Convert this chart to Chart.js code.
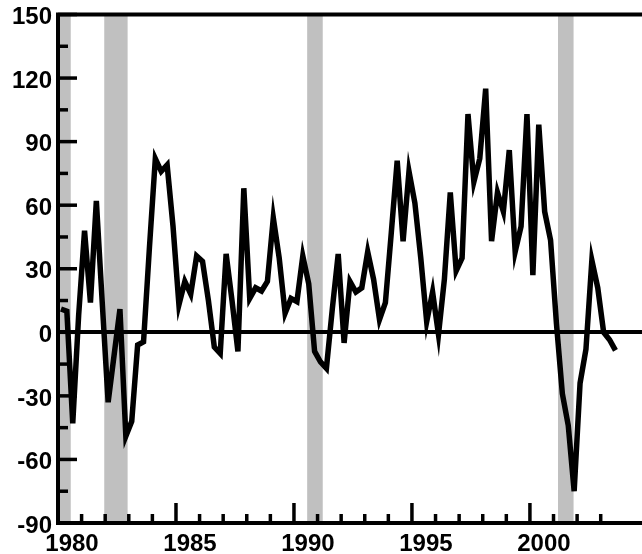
<!DOCTYPE html>
<html>
<head>
<meta charset="utf-8">
<script src="https://cdn.jsdelivr.net/npm/chart.js@4.4.1/dist/chart.umd.min.js"></script>
<style>
  html, body { margin: 0; padding: 0; background: #fff; }
  #wrap { width: 642px; height: 554px; }
</style>
</head>
<body>
<div id="wrap"><canvas id="chart"></canvas></div>
<script>
'use strict';

// quarterly series, first point is 1980 Q1
const startYear = 1980;
const values = [
  11, 10, -43, 8,        // 1980
  48, 14, 62, 14,        // 1981
  -33, -11, 11, -49,     // 1982
  -42, -6, -4.5, 40,     // 1983
  82, 76, 79, 50,        // 1984
  13, 24, 18, 36,        // 1985
  33.5, 15, -7, -10,     // 1986
  37, 15, -9, 68,        // 1987
  16, 21, 19.5, 24,      // 1988
  54, 35, 9, 16,         // 1989
  14.5, 36, 23, -9,      // 1990
  -14, -17, 11, 37,      // 1991
  -5, 24, 19, 21,        // 1992
  38, 25, 6, 14,         // 1993
  47, 81, 43, 76,        // 1994
  61, 35, 5, 19,         // 1995
  -1, 25, 66, 29,        // 1996
  35, 103, 71, 82,       // 1997
  115, 43, 66, 57,       // 1998
  86, 38, 50, 103,       // 1999
  27, 98, 57, 43.5,      // 2000
  4, -29, -44, -75,      // 2001
  -24, -8, 34, 21,       // 2002
  0, -3.5, -8.5          // 2003
];

// shaded recession periods (decimal years)
const recessionStart = [1980.0, 1981.96, 1990.56, 2001.19];
const recessionEnd = [1980.54, 1982.95, 1991.22, 2001.85];

const xMin = 1980, xMax = 2004.75;
const yMin = -90, yMax = 150;

const labelFont = { family: "'Liberation Sans', Arial, sans-serif", size: 24, weight: 'bold' };

const points = values.map((v, i) => ({ x: startYear + 0.125 + i * 0.25, y: v }));

const recessionBands = {
  id: 'recessionBands',
  beforeDraw(chart) {
    const { ctx, chartArea, scales: { x } } = chart;
    ctx.save();
    ctx.fillStyle = '#c0c0c0';
    recessionStart.forEach((s, i) => {
      const x0 = Math.max(x.getPixelForValue(s), chartArea.left);
      const x1 = x.getPixelForValue(recessionEnd[i]);
      ctx.fillRect(x0, chartArea.top, x1 - x0, chartArea.bottom - chartArea.top);
    });
    ctx.restore();
  },
};

// inward tick marks + top frame line
const frameTicks = {
  id: 'frameTicks',
  afterDraw(chart) {
    const { ctx, chartArea, scales: { x, y } } = chart;
    ctx.save();
    ctx.strokeStyle = '#000';
    ctx.lineWidth = 4;
    ctx.beginPath();
    ctx.moveTo(chartArea.left - 2, chartArea.top);
    ctx.lineTo(chartArea.right, chartArea.top);
    ctx.stroke();

    ctx.lineWidth = 3.5;
    y.ticks.forEach((t) => {
      const py = y.getPixelForValue(t.value);
      const len = t.value % 30 === 0 ? 19 : 10;
      ctx.beginPath();
      ctx.moveTo(chartArea.left, py);
      ctx.lineTo(chartArea.left + len, py);
      ctx.stroke();
    });
    x.ticks.forEach((t) => {
      if (!Number.isInteger(t.value)) return;
      const px = x.getPixelForValue(t.value);
      const len = t.value % 5 === 0 ? 20 : 9;
      ctx.beginPath();
      ctx.moveTo(px, chartArea.bottom);
      ctx.lineTo(px, chartArea.bottom - len);
      ctx.stroke();
    });
    ctx.restore();
  },
};

new Chart(document.getElementById('chart'), {
  type: 'line',
  data: {
    datasets: [{
      data: points,
      borderColor: '#000',
      borderWidth: 5.5,
      pointRadius: 0,
      tension: 0,
      fill: false,
    }],
  },
  options: {
    responsive: true,
    maintainAspectRatio: false,
    animation: false,
    layout: { padding: { top: 0, right: 0, bottom: 0, left: 0 } },
    plugins: {
      legend: { display: false },
      tooltip: { enabled: false },
    },
    scales: {
      x: {
        type: 'linear',
        min: xMin,
        max: xMax,
        border: { color: '#000', width: 4 },
        grid: { display: false },
        ticks: {
          stepSize: 1,
          autoSkip: false,
          maxRotation: 0,
          padding: -1,
          labelOffset: 14,
          color: '#000',
          font: labelFont,
          callback: (v) => (v % 5 === 0 ? String(v) : ''),
        },
        afterFit: (s) => { s.height = 31; s.paddingLeft = 0; s.paddingRight = 0; },
      },
      y: {
        min: yMin,
        max: yMax,
        border: { color: '#000', width: 4 },
        grid: {
          drawTicks: false,
          lineWidth: 4,
          color: (c) => (c.tick && c.tick.value === 0 ? '#000' : 'rgba(0,0,0,0)'),
        },
        ticks: {
          stepSize: 15,
          autoSkip: false,
          padding: 6,
          labelOffset: 3,
          color: '#000',
          font: labelFont,
          callback: (v) => (v % 30 === 0 ? String(v) : ''),
        },
        afterFit: (s) => { s.width = 58; s.paddingTop = 14.5; s.paddingBottom = 0; },
      },
    },
  },
  plugins: [recessionBands, frameTicks],
});
</script>
</body>
</html>
